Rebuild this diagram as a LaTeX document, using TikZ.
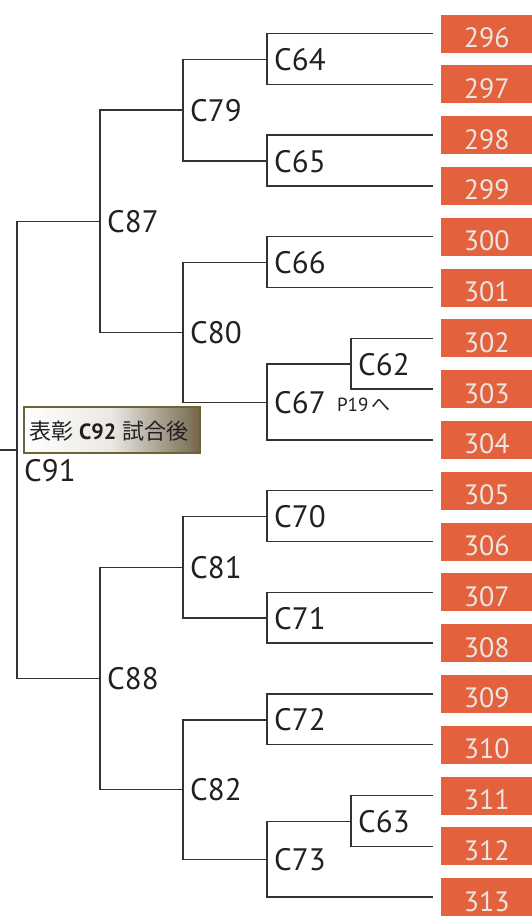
\documentclass[tikz,border=0pt]{standalone}
\usepackage{fontspec}
\setmainfont{PT Sans}
\newfontfamily\cjk{Noto Sans CJK JP}
\usetikzlibrary{calc}
\definecolor{ln}{HTML}{333333}
\definecolor{seedbg}{HTML}{E4613D}
\definecolor{seedtx}{HTML}{ECE6E2}
\definecolor{awd}{HTML}{6E6536}
\definecolor{awdr}{HTML}{74664A}
\definecolor{lbltx}{HTML}{231F20}
\begin{document}
\begin{tikzpicture}[x=1pt,y=-1pt,
 link/.style={draw=ln,line width=1.5pt},
 seed/.style={fill=seedbg,text=seedtx,minimum width=91pt,minimum height=38pt,inner sep=0pt,
   text height=33pt,text depth=5pt,font=\fontsize{28}{28}\selectfont,anchor=west},
 lbl/.style={anchor=base west,font=\fontsize{31}{31}\selectfont,text=lbltx,inner sep=0pt}]
\useasboundingbox (0,0) rectangle (532,922);
% leaves
\foreach \n [count=\i from 0] in {296,297,298,299,300,301,302,303,304,305,306,307,308,309,310,311,312,313}
  \node[seed] (n\n) at (441,{33.5+50.8*\i}) {\n};
% junctions
\coordinate (C64) at (267,59.4);
\coordinate (C65) at (267,161);
\coordinate (C79) at (183,110.2);
\coordinate (C66) at (267,262.6);
\coordinate (C62) at (351,364.2);
\coordinate (C67) at (267,402.3);
\coordinate (C80) at (183,332.5);
\coordinate (C87) at (100,221.3);
\coordinate (C70) at (267,516.6);
\coordinate (C71) at (267,618.2);
\coordinate (C81) at (183,567.4);
\coordinate (C72) at (267,719.8);
\coordinate (C63) at (351,821.4);
\coordinate (C73) at (267,859.5);
\coordinate (C82) at (183,789.6);
\coordinate (C88) at (100,678.5);
\coordinate (C91) at (17,449.9);
\coordinate (root) at (0,449.9);
% leaf brackets
\draw[link] ([xshift=-8pt]n296.west) -| (C64) |- ([xshift=-8pt]n297.west);
\draw[link] ([xshift=-8pt]n298.west) -| (C65) |- ([xshift=-8pt]n299.west);
\draw[link] ([xshift=-8pt]n300.west) -| (C66) |- ([xshift=-8pt]n301.west);
\draw[link] ([xshift=-8pt]n302.west) -| (C62) |- ([xshift=-8pt]n303.west);
\draw[link] (C62) -| (C67) |- ([xshift=-8pt]n304.west);
\draw[link] ([xshift=-8pt]n305.west) -| (C70) |- ([xshift=-8pt]n306.west);
\draw[link] ([xshift=-8pt]n307.west) -| (C71) |- ([xshift=-8pt]n308.west);
\draw[link] ([xshift=-8pt]n309.west) -| (C72) |- ([xshift=-8pt]n310.west);
\draw[link] ([xshift=-8pt]n311.west) -| (C63) |- ([xshift=-8pt]n312.west);
\draw[link] (C63) -| (C73) |- ([xshift=-8pt]n313.west);
% inner brackets
\draw[link] (C64) -| (C79) |- (C65);
\draw[link] (C66) -| (C80) |- (C67);
\draw[link] (C79) -| (C87) |- (C80);
\draw[link] (C70) -| (C81) |- (C71);
\draw[link] (C72) -| (C82) |- (C73);
\draw[link] (C81) -| (C88) |- (C82);
\draw[link] (C87) -| (C91) |- (C88);
\draw[link] (root) -- (C91);
% labels
\foreach \c in {C64,C65,C79,C66,C62,C67,C80,C87,C70,C71,C81,C72,C63,C73,C82,C88}
  \node[lbl] (L\c) at ($(\c)+(7,11)$) {\c};
\node[anchor=base west,inner sep=0pt,font=\fontsize{19}{19}\selectfont,text=lbltx] (p19) at ($(LC67.base east)+(11,-2)$) {P19\,{\cjk へ}};
% award box
\node[draw=awd,line width=1.8pt,left color=white,right color=awdr,middle color=white!85!awdr,
  minimum width=176pt,minimum height=46pt,inner sep=0pt,anchor=north west] (award) at (23,406) {};
\node[anchor=west,inner sep=0pt,font=\fontsize{22}{22}\selectfont,text=lbltx] (awardtxt) at ($(award.west)+(6,1)$)
  {{\cjk 表彰} \textbf{C92} {\cjk 試合後}};
\node[lbl] (LC91) at (24,481) {C91};
\end{tikzpicture}
\end{document}
